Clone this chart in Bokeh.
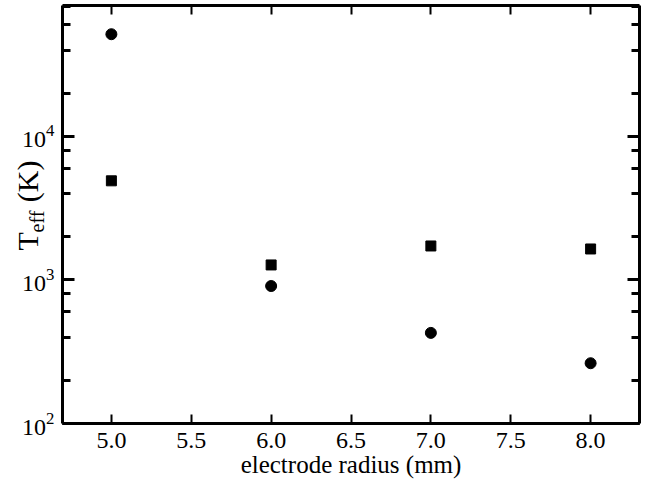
from bokeh.plotting import figure
from bokeh.models import (LogAxis, LinearAxis, SingleIntervalTicker, LogTicker,
                          PrintfTickFormatter, CustomJSTickFormatter, Title, ColumnDataSource)
from bokeh.embed import file_html
from bokeh.resources import INLINE

# data
radius = [5.0, 6.0, 7.0, 8.0]
teff_circle = [51600, 908, 428, 263]
teff_square = [4910, 1273, 1726, 1645]
x_label = "electrode radius (mm)"
X_START, X_END = 4.694, 8.306

FONT = "Liberation Serif"

p = figure(width=646, height=487, y_axis_type="log",
           x_range=(X_START, X_END), y_range=(100, 81800),
           output_backend="svg", toolbar_location=None,
           min_border_left=62, min_border_right=7, min_border_top=5, min_border_bottom=64)
p.grid.visible = False
p.outline_line_color = None
p.background_fill_color = "white"
p.border_fill_color = "white"

src = ColumnDataSource(dict(x=radius, c=teff_circle, s=teff_square))
p.scatter("x", "c", source=src, marker="circle", size=11, color="black")
p.scatter("x", "s", source=src, marker="square", size=10, color="black")

xt = SingleIntervalTicker(interval=0.5)

def style_x(ax, labels=True):
    ax.ticker = xt
    ax.axis_line_width = 3
    ax.axis_line_color = "black"
    ax.major_tick_in = 9
    ax.major_tick_out = 0
    ax.major_tick_line_width = 2
    ax.minor_tick_line_color = None
    ax.major_label_text_font = FONT
    ax.major_label_text_font_size = "24px"
    ax.major_label_text_color = "black"
    if labels:
        ax.formatter = PrintfTickFormatter(format="%.1f")
        ax.major_label_standoff = 5
    else:
        ax.formatter = CustomJSTickFormatter(code="return ''")
        ax.major_label_standoff = 0

def style_y(ax, labels=True):
    ax.ticker = LogTicker()
    ax.axis_line_width = 3
    ax.axis_line_color = "black"
    ax.major_tick_in = 12
    ax.major_tick_out = 0
    ax.major_tick_line_width = 3
    ax.minor_tick_in = 8
    ax.minor_tick_out = 0
    ax.minor_tick_line_width = 3
    ax.major_label_text_font = FONT
    ax.major_label_text_font_size = "24px"
    ax.major_label_text_color = "black"
    if labels:
        ax.major_label_standoff = 8
    else:
        ax.formatter = CustomJSTickFormatter(code="return ''")
        ax.major_label_standoff = 0

xa = p.xaxis[0]
style_x(xa)
xa.axis_label = x_label
xa.axis_label_text_font = FONT
xa.axis_label_text_font_size = "25px"
xa.axis_label_text_font_style = "normal"
xa.axis_label_text_color = "black"
xa.axis_label_standoff = 0

ya = p.yaxis[0]
style_y(ya)

top = LinearAxis()
style_x(top, labels=False)
p.add_layout(top, "above")
right = LogAxis()
style_y(right, labels=False)
p.add_layout(right, "right")

# y axis label: T_eff (K) as two side titles with negative standoff (no extra panel space)
t_main = Title(text="T\u00a0\u00a0\u00a0\u00a0(K)", align="left", vertical_align="bottom",
               offset=173, standoff=-49, text_font=FONT, text_font_size="30px",
               text_font_style="normal", text_color="black")
p.add_layout(t_main, "left")
t_sub = Title(text="eff", align="left", vertical_align="bottom",
              offset=191, standoff=-57, text_font=FONT, text_font_size="20px",
              text_font_style="normal", text_color="black")
p.add_layout(t_sub, "left")

open("out.html", "w").write(file_html(p, INLINE))
